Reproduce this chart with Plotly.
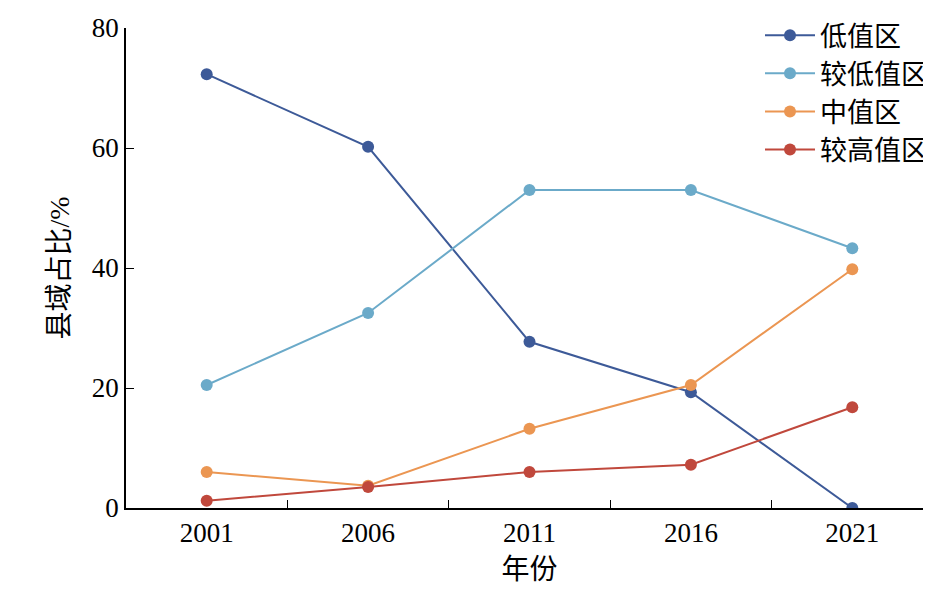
import plotly.graph_objects as go

years = ["2001", "2006", "2011", "2016", "2021"]
low = [72.3, 60.2, 27.7, 19.3, 0.0]
lower_mid = [20.5, 32.5, 53.0, 53.0, 43.3]
mid = [6.0, 3.7, 13.2, 20.5, 39.8]
higher = [1.2, 3.5, 6.0, 7.2, 16.8]

series = [
    ("低值区", low, "#3D5A98"),
    ("较低值区", lower_mid, "#6BAAC9"),
    ("中值区", mid, "#EB9652"),
    ("较高值区", higher, "#C0483C"),
]

fig = go.Figure()
for name, vals, color in series:
    fig.add_trace(go.Scatter(x=years, y=vals, name=name, mode="lines+markers",
                             line=dict(color=color, width=2),
                             marker=dict(color=color, size=12)))

font = "Liberation Serif, Noto Sans CJK SC"
fig.update_layout(
    width=931, height=604,
    margin=dict(l=118, r=6, t=20, b=104, autoexpand=False),
    plot_bgcolor="white", paper_bgcolor="white",
    font=dict(family=font, size=27, color="black"),
    legend=dict(x=1, y=1.035, xanchor="right", yanchor="top",
                font=dict(size=27), bgcolor="rgba(0,0,0,0)",
                tracegroupgap=0, itemwidth=50),
)
fig.update_xaxes(type="category", range=[-0.5, 4.5], tickson="boundaries",
                 ticks="inside", ticklen=8, tickcolor="black",
                 showline=True, linecolor="black", linewidth=1.5,
                 showgrid=False, title=dict(text="年份", font=dict(size=28), standoff=12))
fig.update_yaxes(range=[0, 80], dtick=20, ticks="inside", ticklen=8, tickcolor="black",
                 showline=True, linecolor="black", linewidth=1.5,
                 showgrid=False, zeroline=False,
                 title=dict(text="县域占比/%", font=dict(size=28), standoff=14))

fig.write_html("out.html")
